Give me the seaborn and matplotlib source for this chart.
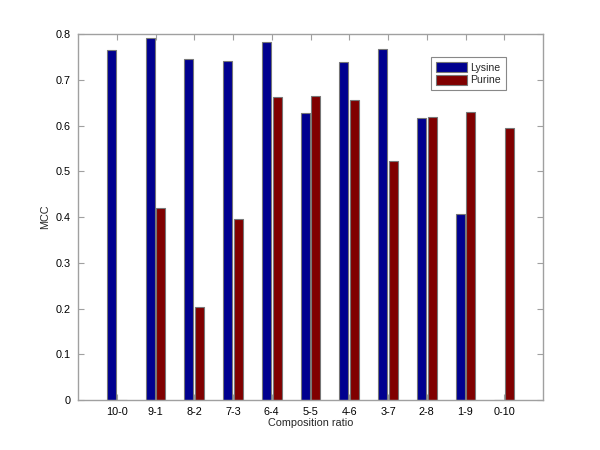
import pandas as pd
import seaborn as sns
import matplotlib.pyplot as plt

ratios = ["10-0", "9-1", "8-2", "7-3", "6-4", "5-5", "4-6", "3-7", "2-8", "1-9", "0-10"]
lysine = [0.765, 0.792, 0.745, 0.741, 0.782, 0.628, 0.740, 0.768, 0.617, 0.406, 0.0]
purine = [0.0, 0.421, 0.203, 0.396, 0.662, 0.665, 0.657, 0.522, 0.618, 0.630, 0.594]

df = pd.DataFrame({
    "ratio": ratios * 2,
    "MCC": lysine + purine,
    "type": ["Lysine"] * len(ratios) + ["Purine"] * len(ratios),
})

sns.set_style("white")
plt.rcParams["font.family"] = ["Liberation Sans", "DejaVu Sans"]

fig = plt.figure(figsize=(6, 4.5), dpi=100)
ax = fig.add_axes([0.13, 0.111, 0.775, 0.813])

palette = {"Lysine": "#00008f", "Purine": "#800000"}
sns.barplot(data=df, x="ratio", y="MCC", hue="type", order=ratios,
            palette=palette, width=0.56, gap=0.18, edgecolor="#777777",
            linewidth=0.8, saturation=1, ax=ax)

ax.set_xlim(-1, 11)
ax.set_ylim(0, 0.8)
ax.set_yticks([0, 0.1, 0.2, 0.3, 0.4, 0.5, 0.6, 0.7, 0.8])
ax.set_yticklabels(["0", "0.1", "0.2", "0.3", "0.4", "0.5", "0.6", "0.7", "0.8"])
ax.set_xlabel("Composition ratio", fontsize=7.8, labelpad=1)
ax.set_ylabel("MCC", fontsize=7.8, labelpad=4)

for s in ax.spines.values():
    s.set_color("#a0a0a0")
    s.set_linewidth(1)
ax.tick_params(axis="both", direction="in", length=4, width=0.8, color="#a0a0a0",
               labelsize=7.8, labelcolor="black", top=True, right=True, bottom=True, left=True, pad=5)

leg = ax.legend(loc="upper right", bbox_to_anchor=(0.920, 0.937), borderaxespad=0,
                fontsize=7.6, frameon=True, fancybox=False, edgecolor="#888888", framealpha=1,
                handlelength=3.0, handleheight=1.1, borderpad=0.45, labelspacing=0.2,
                handletextpad=0.3)
leg.get_frame().set_linewidth(0.8)

plt.savefig("out.png", dpi=100)
